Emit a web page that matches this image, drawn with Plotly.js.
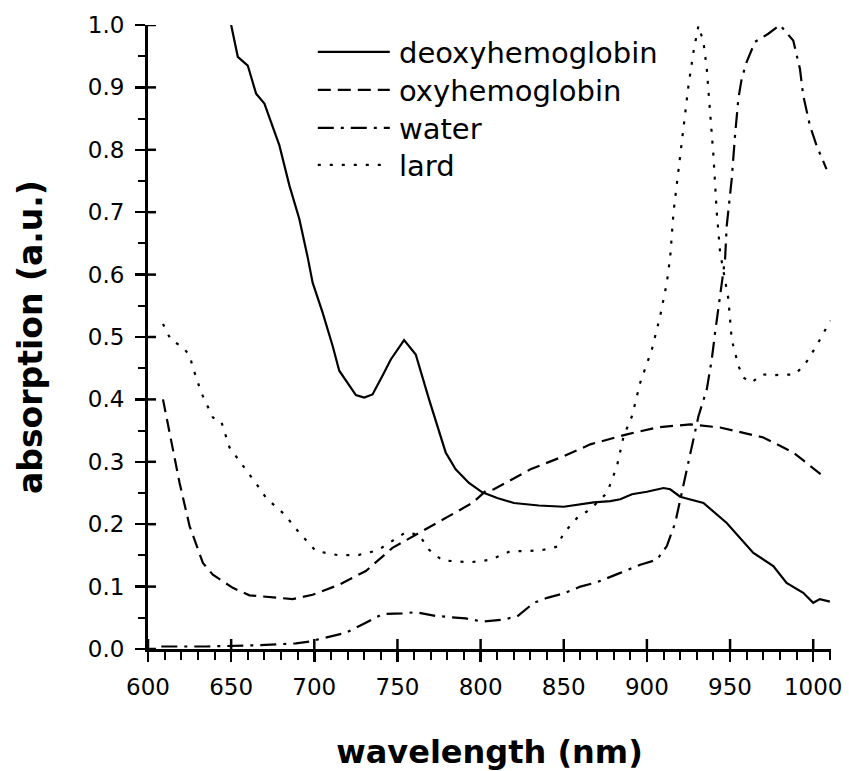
<!DOCTYPE html>
<html><head><meta charset="utf-8">
<script src="https://cdn.plot.ly/plotly-3.0.1.min.js"></script>
<style>html,body{margin:0;padding:0;background:#fff}</style>
</head><body><div id="chart" style="width:849px;height:771px"></div>
<script>
const seriesNames = ["deoxyhemoglobin", "oxyhemoglobin", "water", "lard"];
const seriesDash = ["solid", "13px,7px", "16px,7px,3px,7px", "3px,9px"];

const deoxyX = [650, 654, 660, 665, 670, 679, 685, 691, 696, 699, 705, 711, 715, 719, 725, 730, 735, 741, 746, 754, 761, 769, 779, 785, 793, 801, 810, 820, 835, 850, 868, 878, 884, 891, 900, 910, 914, 920, 934, 948, 964, 976, 984, 994, 1000, 1004, 1010];
const deoxyY = [1.0, 0.949, 0.935, 0.890, 0.874, 0.807, 0.743, 0.689, 0.628, 0.587, 0.539, 0.486, 0.446, 0.430, 0.407, 0.403, 0.408, 0.438, 0.464, 0.495, 0.472, 0.400, 0.315, 0.288, 0.266, 0.251, 0.242, 0.234, 0.230, 0.228, 0.235, 0.237, 0.240, 0.248, 0.252, 0.258, 0.256, 0.244, 0.234, 0.202, 0.154, 0.133, 0.106, 0.090, 0.074, 0.080, 0.076];

const oxyX = [609, 613, 619, 625, 633, 639, 651, 661, 671, 687, 699, 715, 731, 747, 763, 781, 795, 803, 808, 830, 850, 866, 888, 906, 926, 944, 958, 970, 988, 1006];
const oxyY = [0.400, 0.347, 0.266, 0.197, 0.138, 0.119, 0.098, 0.086, 0.084, 0.080, 0.087, 0.103, 0.125, 0.162, 0.186, 0.213, 0.234, 0.253, 0.256, 0.288, 0.309, 0.328, 0.344, 0.355, 0.360, 0.355, 0.347, 0.339, 0.315, 0.277];

const waterX = [608, 635, 665, 689, 697, 707, 719, 731, 741, 753, 761, 773, 791, 801, 813, 822, 832, 840, 850, 860, 870, 884, 896, 906, 912, 917, 921, 926, 931, 936, 939, 941, 944, 947, 948, 951, 953, 955, 957, 960, 965, 973, 980, 988, 992, 994, 998, 1002, 1008];
const waterY = [0.004, 0.004, 0.006, 0.009, 0.012, 0.018, 0.026, 0.042, 0.056, 0.057, 0.059, 0.053, 0.049, 0.044, 0.047, 0.052, 0.074, 0.082, 0.089, 0.100, 0.107, 0.122, 0.135, 0.143, 0.165, 0.202, 0.250, 0.309, 0.373, 0.416, 0.464, 0.507, 0.566, 0.625, 0.678, 0.753, 0.823, 0.882, 0.914, 0.941, 0.973, 0.986, 1.000, 0.975, 0.930, 0.887, 0.839, 0.807, 0.769];

const lardX = [609, 614, 620, 625, 627, 632, 639, 644, 649, 658, 667, 671, 682, 691, 701, 715, 727, 738, 755, 763, 769, 777, 794, 806, 818, 828, 838, 846, 850, 858, 866, 874, 876, 882, 886, 891, 896, 903, 908, 912, 914, 916, 919, 922, 925, 928, 931, 934, 936, 938, 940, 942, 944, 949, 951, 955, 958, 963, 969, 977, 989, 995, 1002, 1008, 1010.5];
const lardY = [0.521, 0.494, 0.486, 0.471, 0.451, 0.411, 0.371, 0.365, 0.323, 0.291, 0.258, 0.242, 0.216, 0.186, 0.157, 0.150, 0.151, 0.158, 0.187, 0.183, 0.159, 0.142, 0.139, 0.143, 0.157, 0.157, 0.159, 0.164, 0.186, 0.210, 0.224, 0.245, 0.250, 0.293, 0.341, 0.373, 0.427, 0.480, 0.534, 0.587, 0.628, 0.700, 0.769, 0.828, 0.903, 0.957, 0.999, 0.973, 0.930, 0.860, 0.791, 0.700, 0.636, 0.561, 0.496, 0.454, 0.435, 0.427, 0.440, 0.439, 0.440, 0.456, 0.486, 0.515, 0.526];

const xRange = [600, 1010.7];
const yRange = [0, 1.0];
const xTickLabels = ["600", "650", "700", "750", "800", "850", "900", "950", "1000"];
const xTickVals = [600, 650, 700, 750, 800, 850, 900, 950, 1000];
const yTickVals = [0, 0.1, 0.2, 0.3, 0.4, 0.5, 0.6, 0.7, 0.8, 0.9, 1.0];
const yTickLabels = ["0.0", "0.1", "0.2", "0.3", "0.4", "0.5", "0.6", "0.7", "0.8", "0.9", "1.0"];
const xTitle = "wavelength (nm)";
const yTitle = "absorption (a.u.)";

const FONT = "DejaVu Sans, Liberation Sans, Arial, sans-serif";
const LW = 2.2;
const W = 849, H = 771;
const M = {l: 148, r: 18, t: 25, b: 122, pad: 0};
const plotW = W - M.l - M.r, plotH = H - M.t - M.b;

const xs = [deoxyX, oxyX, waterX, lardX];
const ys = [deoxyY, oxyY, waterY, lardY];
const traces = xs.map((x, i) => ({
  type: "scatter", mode: "lines", x: x, y: ys[i], name: seriesNames[i],
  line: {color: "#000", width: LW, dash: seriesDash[i]},
  showlegend: false
}));

// inner halves of the major ticks (the axis ticks themselves are drawn outside)
const innerTicks = [];
xTickVals.forEach(v => innerTicks.push({
  type: "line", xref: "x", yref: "paper", x0: v, x1: v, y0: 0, y1: 10 / plotH,
  line: {color: "#000", width: 2.5}, layer: "above"
}));
yTickVals.forEach(v => innerTicks.push({
  type: "line", xref: "paper", yref: "y", x0: 0, x1: 8 / plotW, y0: v, y1: v,
  line: {color: "#000", width: 2.5}, layer: "above"
}));

// legend drawn as layout items in paper coordinates
const legRows = [0.957, 0.896, 0.835, 0.776];
const legShapes = legRows.map((yy, i) => ({
  type: "line", xref: "paper", yref: "paper", x0: 0.2486, x1: 0.354, y0: yy, y1: yy,
  line: {color: "#000", width: LW, dash: seriesDash[i]}
}));
const annotations = legRows.map((yy, i) => ({
  xref: "paper", yref: "paper", x: 0.3643, y: yy - 0.002, xanchor: "left", yanchor: "middle",
  text: seriesNames[i], showarrow: false, font: {family: FONT, size: 29, color: "#000"}
}));

const baseAxis = {showgrid: false, zeroline: false, color: "#000", fixedrange: true};

const layout = {
  width: W, height: H,
  margin: M,
  paper_bgcolor: "#fff", plot_bgcolor: "#fff",
  showlegend: false,
  xaxis: Object.assign({}, baseAxis, {
    range: xRange, tickmode: "array", tickvals: xTickVals, ticktext: xTickLabels,
    ticks: "outside", ticklen: 10, tickwidth: 2.5, tickcolor: "#000",
    showline: true, linewidth: 3, linecolor: "#000",
    minor: {dtick: 10, tick0: 600, ticks: "outside", ticklen: 8, tickwidth: 2, tickcolor: "#000", showgrid: false},
    tickfont: {family: FONT, size: 23, color: "#000"}, ticklabelstandoff: 5,
    title: {text: xTitle, font: {family: FONT, size: 32, weight: "bold", color: "#000"}, standoff: 44}
  }),
  yaxis: Object.assign({}, baseAxis, {
    range: yRange, tickmode: "array", tickvals: yTickVals, ticktext: yTickLabels,
    ticks: "outside", ticklen: 10, tickwidth: 2.5, tickcolor: "#000",
    showline: true, linewidth: 3, linecolor: "#000",
    minor: {dtick: 0.05, tick0: 0, ticks: "outside", ticklen: 7, tickwidth: 2, tickcolor: "#000", showgrid: false},
    tickfont: {family: FONT, size: 23, color: "#000"}, ticklabelstandoff: 6,
    title: {text: yTitle, font: {family: FONT, size: 33, weight: "bold", color: "#000"}, standoff: 36}
  }),
  shapes: innerTicks.concat(legShapes),
  annotations: annotations
};

Plotly.newPlot("chart", traces, layout, {displayModeBar: false, staticPlot: true});
</script>
</body></html>
